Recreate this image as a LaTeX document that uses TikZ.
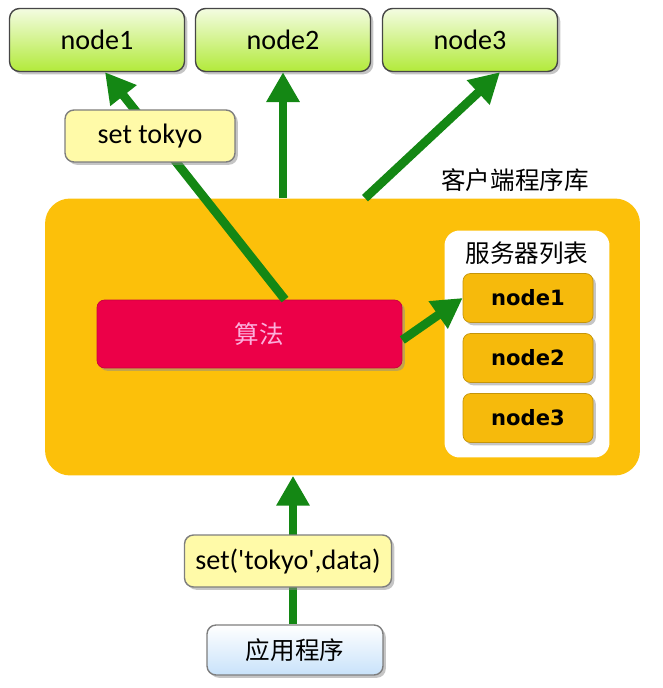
\documentclass[tikz,border=0pt]{standalone}
\usepackage{fontspec}
\setmainfont{Carlito}
\newfontfamily\cjk{Noto Sans CJK SC}
\newfontfamily\verd{DejaVu Sans}
\usepackage{xcolor}
\usetikzlibrary{arrows.meta, shadows}
\definecolor{mygreen}{RGB}{20,135,20}
\definecolor{mydark}{RGB}{70,70,70}
\definecolor{myorange}{RGB}{252,192,10}
\definecolor{mysrv}{RGB}{246,186,12}
\definecolor{myred}{RGB}{236,0,72}
\definecolor{mypink}{RGB}{252,175,220}
\definecolor{myyellow}{RGB}{255,250,168}
\definecolor{mylime}{RGB}{178,234,58}
\definecolor{myblue}{RGB}{200,226,250}

\begin{document}
\begin{tikzpicture}[x=0.02cm, y=-0.02cm,
      shade/.style={drop shadow={shadow xshift=1.6pt, shadow yshift=-1.6pt, fill=black!45}},
      dest/.style={draw=mydark, thick, rounded corners=0.2cm, shade,
                   top color=white!85!mylime, bottom color=mylime,
                   minimum width=3.5cm, minimum height=1.26cm,
                   font=\fontsize{16}{19}\selectfont},
      msg/.style={draw=mydark!70, thick, rounded corners=0.18cm, shade, fill=myyellow,
                  minimum height=1.04cm, font=\fontsize{16}{19}\selectfont},
      srv/.style={draw=mysrv!80!black, rounded corners=0.15cm, shade, fill=mysrv,
                  minimum width=2.6cm, minimum height=0.98cm,
                  font=\verd\bfseries\fontsize{12}{14}\selectfont},
      arr/.style={-{Triangle[length=17pt, width=18pt]}, line width=5pt, draw=mygreen}
  ]
    \useasboundingbox (0,0) rectangle (662,688);

    \node[dest] (n1) at (97,40) {node1};
    \node[dest] (n2) at (283,40) {node2};
    \node[dest] (n3) at (470,40) {node3};

    % client library
    \node[fill=myorange, rounded corners=0.5cm, minimum width=11.9cm,
          minimum height=5.54cm] (lib) at (342.5,337) {};
    \node[font=\cjk\fontsize{14}{17}\selectfont] (libname) at (515,180) {客户端程序库};

    \node[fill=myred, draw=myred!85!black, rounded corners=0.15cm, shade,
          minimum width=6.1cm, minimum height=1.36cm,
          font=\cjk\fontsize{14}{17}\selectfont, text=mypink] (algo) at (249.5,334) {\hspace*{0.4cm}算法};

    % server list
    \node[fill=white, rounded corners=0.3cm, minimum width=3.3cm,
          minimum height=4.54cm] (list) at (527,344) {};
    \node[font=\cjk\fontsize{14}{17}\selectfont] (listname) at (527,253) {服务器列表};
    \node[srv] (s1) at (528,298) {node1};
    \node[srv] (s2) at (528,358) {node2};
    \node[srv] (s3) at (528,418) {node3};

    \node[draw=mydark!70, thick, rounded corners=0.18cm, shade,
          top color=white, bottom color=myblue, minimum width=3.52cm,
          minimum height=1.0cm, font=\cjk\fontsize{14}{17}\selectfont] (app) at (295,650) {应用程序};

    \draw[arr] ([xshift=0.71cm]algo.north) -- ([xshift=0.16cm]n1.south);
    \draw[arr] (lib.north -| n2.south) -- (n2.south);
    \draw[arr] ([xshift=0.45cm]lib.north) -- ([xshift=0.6cm]n3.south);
    \draw[arr] ([yshift=-0.12cm]algo.east) -- (s1.west);
    \draw[arr] ([xshift=-0.04cm]app.north) -- ([xshift=-0.04cm]lib.south -| app.north);

    \node[msg, minimum width=3.4cm] (set1) at (150,136) {set tokyo};
    \node[msg, minimum width=4.14cm] (set2) at (288,561) {set(\textquotesingle tokyo\textquotesingle,data)};
\end{tikzpicture}
\end{document}
